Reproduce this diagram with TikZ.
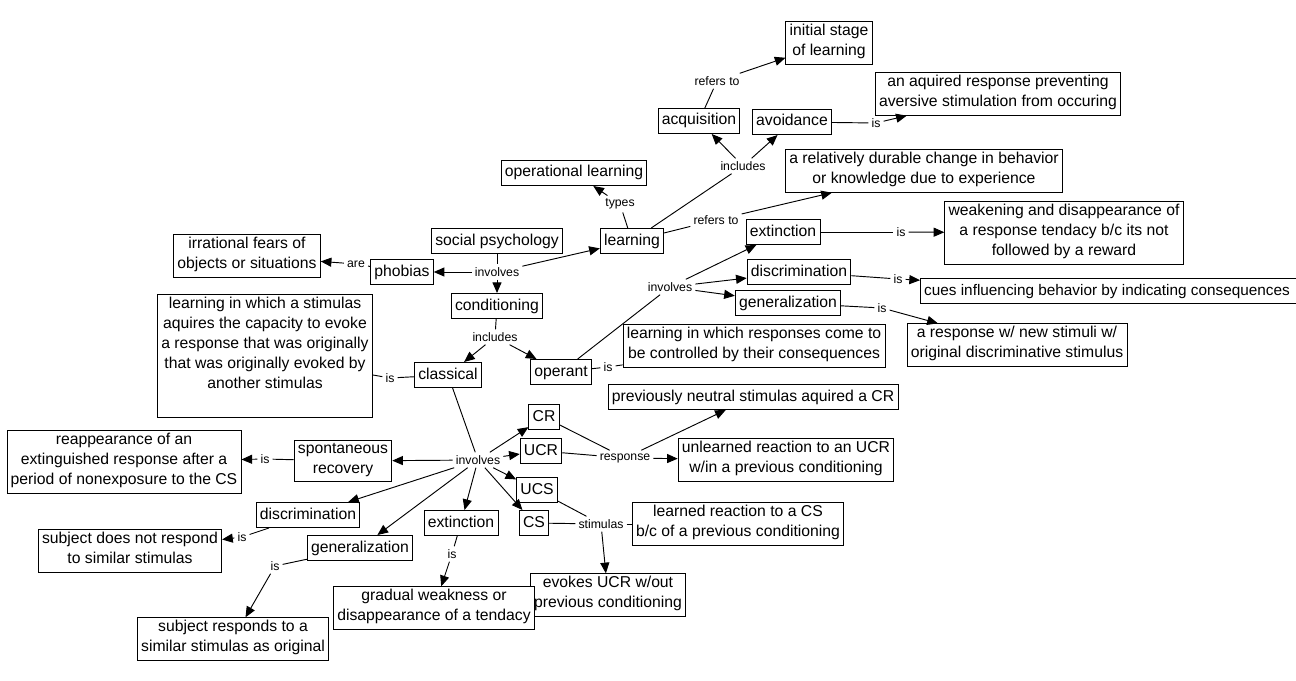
\documentclass[tikz,border=0pt]{standalone}
\usepackage{fontspec}
\setmainfont{Liberation Sans}
\usetikzlibrary{arrows.meta}
\begin{document}
\begin{tikzpicture}[x=0.75pt,y=-0.75pt,
  concept/.style={draw, line width=0.7pt, fill=white, inner xsep=2.8pt, inner ysep=1.9pt,
    align=center, font=\fontsize{11.8}{15}\selectfont,
    execute at begin node=\strut, execute at end node=\strut},
  lnk/.style={inner sep=2.2pt, font=\fontsize{9.2}{11}\selectfont},
  conn/.style={line width=0.7pt},
  arr/.style={line width=0.7pt, -{Triangle[length=8pt,width=6.8pt]}}
]
\useasboundingbox[fill=white] (0,0) rectangle (1296,681);

% concepts
\node[concept] (init) at (829,43) {initial stage\\of learning};
\node[concept] (aqr) at (998,94) {an aquired response preventing\\aversive stimulation from occuring};
\node[concept] (acq) at (699,121) {acquisition};
\node[concept] (avoid) at (792,122) {avoidance};
\node[concept] (opl) at (574,173) {operational learning};
\node[concept] (durable) at (924,171) {a relatively durable change in behavior\\or knowledge due to experience};
\node[concept] (learn) at (632,241) {learning};
\node[concept] (soc) at (497,241) {social psychology};
\node[concept] (fears) at (247,256) {irrational fears of\\objects or situations};
\node[concept] (phob) at (402,272) {phobias};
\node[concept] (extop) at (783,232) {extinction};
\node[concept] (weak) at (1064,233) {weakening and disappearance of\\a response tendacy b/c its not\\followed by a reward};
\node[concept] (discop) at (799,272) {discrimination};
\node[concept, anchor=west, font=\fontsize{11.5}{15}\selectfont] (cues) at (920,291) {cues influencing behavior by indicating consequences\hspace*{10pt}};
\node[concept] (genop) at (788,303) {generalization};
\node[concept] (newst) at (1017,345) {a response w/ new stimuli w/\\original discriminative stimulus};
\node[concept] (cond) at (497,306) {conditioning};
\node[concept] (clsdef) at (265,356) {learning in which a stimulas\\aquires the capacity to evoke\\a response that was originally\\that was originally evoked by\\another stimulas\\\mbox{}};
\node[concept] (opdef) at (754,346) {learning in which responses come to\\be controlled by their consequences};
\node[concept] (clas) at (448,375) {classical};
\node[concept] (oper) at (561,372) {operant};
\node[concept] (prevn) at (753,397) {previously neutral stimulas aquired a CR};
\node[concept] (cr) at (544,417) {CR};
\node[concept] (reapp) at (124,462) {reappearance of an\\extinguished response after a\\period of nonexposure to the CS};
\node[concept] (spont) at (343,461) {spontaneous\\recovery};
\node[concept] (ucr) at (541,451) {UCR};
\node[concept] (unl) at (786,460) {unlearned reaction to an UCR\\w/in a previous conditioning};
\node[concept] (ucs) at (537,490) {UCS};
\node[concept] (cs) at (534,523) {CS};
\node[concept] (lrn) at (738,524) {learned reaction to a CS\\b/c of a previous conditioning};
\node[concept] (disccl) at (308,515) {discrimination};
\node[concept] (notresp) at (130,551) {subject does not respond\\to similar stimulas};
\node[concept] (extcl) at (461,523) {extinction};
\node[concept] (gencl) at (360,548) {generalization};
\node[concept] (evokes) at (608,595) {evokes UCR w/out\\previous conditioning};
\node[concept] (grad) at (434,608) {gradual weakness or\\disappearance of a tendacy};
\node[concept] (resp) at (233,639) {subject responds to a\\similar stimulas as original};

% linking phrases
\node[lnk] (l1) at (717,81) {refers to};
\node[lnk] (l2) at (743,166) {includes};
\node[lnk] (l3) at (876,123) {is};
\node[lnk] (l4) at (620,204) {types};
\node[lnk] (l5) at (716,220) {refers to};
\node[lnk] (l6) at (497,272) {involves};
\node[lnk] (l7) at (356,264) {are};
\node[lnk] (l8) at (901,232) {is};
\node[lnk] (l9) at (670,287) {involves};
\node[lnk] (l10) at (898,279) {is};
\node[lnk] (l11) at (882,308) {is};
\node[lnk] (l12) at (495,337) {includes};
\node[lnk] (l13) at (390,378) {is};
\node[lnk] (l14) at (608,367) {is};
\node[lnk] (l15) at (478,460) {involves};
\node[lnk] (l16) at (625,458) {response};
\node[lnk] (l17) at (265,459) {is};
\node[lnk] (l18) at (601,524) {stimulas};
\node[lnk] (l19) at (242,537) {is};
\node[lnk] (l20) at (275,566) {is};
\node[lnk] (l21) at (452,554) {is};

% connectors
\draw[conn] (acq) -- (l1); \draw[arr] (l1) -- (init);
\draw[conn] (learn) -- (l2); \draw[arr] (l2) -- (acq); \draw[arr] (l2) -- (avoid);
\draw[conn] (avoid) -- (l3); \draw[arr] (l3) -- (aqr);
\draw[conn] (learn) -- (l4); \draw[arr] (l4) -- (opl);
\draw[conn] (learn) -- (l5); \draw[arr] (l5) -- (durable);
\draw[conn] (soc) -- (l6); \draw[arr] (l6) -- (learn); \draw[arr] (l6) -- (phob); \draw[arr] (l6) -- (cond);
\draw[conn] (phob) -- (l7); \draw[arr] (l7) -- (fears);
\draw[conn] (oper) -- (l9); \draw[arr] (l9) -- (extop); \draw[arr] (l9) -- (discop); \draw[arr] (l9) -- (genop);
\draw[conn] (extop) -- (l8); \draw[arr] (l8) -- (weak);
\draw[conn] (discop) -- (l10); \draw[arr] (l10) -- (cues);
\draw[conn] (genop) -- (l11); \draw[arr] (l11) -- (newst);
\draw[conn] (cond) -- (l12); \draw[arr] (l12) -- (clas); \draw[arr] (l12) -- (oper);
\draw[conn] (clas) -- (l13); \draw[conn] (l13) -- (clsdef);
\draw[conn] (oper) -- (l14); \draw[conn] (l14) -- (opdef);
\draw[conn] (clas) -- (l15);
\draw[arr] (l15) -- (spont); \draw[arr] (l15) -- (disccl); \draw[arr] (l15) -- (gencl);
\draw[arr] (l15) -- (extcl); \draw[arr] (l15) -- (cr); \draw[arr] (l15) -- (ucr);
\draw[arr] (l15) -- (ucs); \draw[arr] (l15) -- (cs);
\draw[conn] (cr) -- (l16); \draw[conn] (ucr) -- (l16); \draw[arr] (l16) -- (prevn); \draw[arr] (l16) -- (unl);
\draw[conn] (ucs) -- (l18); \draw[conn] (cs) -- (l18); \draw[conn] (l18) -- (lrn); \draw[arr] (l18) -- (evokes);
\draw[conn] (spont) -- (l17); \draw[arr] (l17) -- (reapp);
\draw[conn] (disccl) -- (l19); \draw[arr] (l19) -- (notresp);
\draw[conn] (gencl) -- (l20); \draw[arr] (l20) -- (resp);
\draw[conn] (extcl) -- (l21); \draw[arr] (l21) -- (grad);
\end{tikzpicture}
\end{document}
